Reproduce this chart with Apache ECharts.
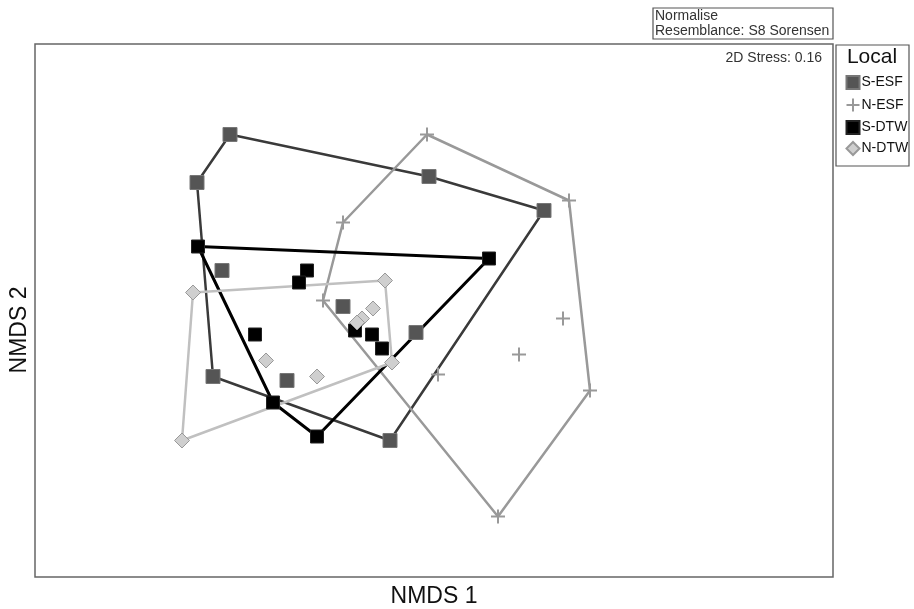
<!DOCTYPE html>
<html>
<head>
<meta charset="utf-8">
<script src="https://cdn.jsdelivr.net/npm/echarts@6/dist/echarts.min.js"></script>
<style>html,body{margin:0;padding:0;background:#fff}#c{width:914px;height:609px}</style>
</head>
<body>
<div id="c"></div>
<script>
// Group names
var groups = ['S-ESF', 'N-ESF', 'S-DTW', 'N-DTW'];
// NMDS coordinates [NMDS1, NMDS2]
var sEsf = [[-1.02,0.88],[-1.185,0.64],[-0.025,0.67],[0.55,0.50],[-1.06,0.20],[-0.455,0.02],[-0.09,-0.11],[-1.105,-0.33],[-0.735,-0.35],[-0.22,-0.65]];
var nEsf = [[-0.035,0.88],[0.675,0.55],[-0.455,0.44],[-0.555,0.05],[0.645,-0.04],[0.425,-0.22],[0.02,-0.32],[0.78,-0.40],[0.32,-1.03]];
var sDtw = [[-1.18,0.32],[0.275,0.26],[-0.635,0.20],[-0.675,0.14],[-0.895,-0.12],[-0.395,-0.10],[-0.31,-0.12],[-0.26,-0.19],[-0.805,-0.46],[-0.585,-0.63]];
var nDtw = [[-1.205,0.09],[-0.245,0.15],[-0.305,0.01],[-0.36,-0.04],[-0.385,-0.06],[-0.84,-0.25],[-0.585,-0.33],[-0.21,-0.26],[-1.26,-0.65]];
// Convex hull vertex order (indices into the arrays above)
var hullSEsf = [0,2,3,9,7,1,0];
var hullNEsf = [0,1,7,8,3,2,0];
var hullSDtw = [0,1,9,8,0];
var hullNDtw = [0,1,7,8,0];
var stressText = '2D Stress: 0.16';

function hull(pts, idx){ return idx.map(function(i){ return pts[i]; }); }

var plusPath = 'path://M0,6 L12,6 M6,0 L6,12';

var chart = echarts.init(document.getElementById('c'));
var font = 'Liberation Sans, Arial, sans-serif';
chart.setOption({
  animation: false,
  textStyle: {fontFamily: font},
  grid: {left: 35, top: 44, width: 798, height: 533, show: true, borderColor: '#666', borderWidth: 1.5, backgroundColor: 'transparent'},
  xAxis: {type: 'value', min: -1.995, max: 1.995, axisLine:{show:false}, axisTick:{show:false}, axisLabel:{show:false}, splitLine:{show:false}},
  yAxis: {type: 'value', min: -1.3325, max: 1.3325, axisLine:{show:false}, axisTick:{show:false}, axisLabel:{show:false}, splitLine:{show:false}},
  legend: {
    data: groups, orient: 'vertical', left: 839, top: 70, itemWidth: 13, itemHeight: 13, itemGap: 6,
    textStyle: {fontSize: 14, color: '#111', fontFamily: font, padding: [0,0,0,-3]}, selectedMode: false
  },
  graphic: [
    {type:'rect', shape:{x:653, y:8, width:180, height:31}, style:{fill:'none', stroke:'#555', lineWidth:1.2}},
    {type:'text', left:655, top:9, style:{text:'Normalise', font:'14px '+font, fill:'#333'}},
    {type:'text', left:655, top:24, style:{text:'Resemblance: S8 Sorensen', font:'14px '+font, fill:'#333'}},
    {type:'text', right: 914-822, top:51, style:{text: stressText, font:'14px '+font, fill:'#333', align:'right'}},
    {type:'rect', shape:{x:836, y:45, width:73, height:121}, style:{fill:'none', stroke:'#555', lineWidth:1.2}},
    {type:'text', x:872, y:57, style:{text:'Local', font:'21px '+font, fill:'#111', align:'center', verticalAlign:'middle'}},
    {type:'text', x:434, y:597, style:{text:'NMDS 1', font:'23px '+font, fill:'#111', align:'center', verticalAlign:'middle'}},
    {type:'text', x:20, y:330, rotation: Math.PI/2, style:{text:'NMDS 2', font:'23px '+font, fill:'#111', align:'center', verticalAlign:'middle'}}
  ],
  series: [
    {name:'S-ESF hull', type:'line', data: hull(sEsf, hullSEsf), symbol:'none', lineStyle:{color:'#3a3a3a', width:2.5}, z:1},
    {name:'N-ESF hull', type:'line', data: hull(nEsf, hullNEsf), symbol:'none', lineStyle:{color:'#999', width:2.5}, z:1},
    {name:'S-DTW hull', type:'line', data: hull(sDtw, hullSDtw), symbol:'none', lineStyle:{color:'#000', width:3}, z:1},
    {name:'N-DTW hull', type:'line', data: hull(nDtw, hullNDtw), symbol:'none', lineStyle:{color:'#c0c0c0', width:2.5}, z:1},
    {name:'S-ESF', type:'scatter', data: sEsf, symbol:'rect', symbolSize:14, itemStyle:{color:'#555', borderColor:'#777', borderWidth:1, opacity:1}, z:3},
    {name:'N-ESF', type:'scatter', data: nEsf, symbol: plusPath, symbolSize:14, itemStyle:{color:'none', borderColor:'#999', borderWidth:2, opacity:1}, z:3},
    {name:'S-DTW', type:'scatter', data: sDtw, symbol:'rect', symbolSize:13, itemStyle:{color:'#000', borderColor:'#222', borderWidth:1, opacity:1}, z:3},
    {name:'N-DTW', type:'scatter', data: nDtw, symbol:'diamond', symbolSize:15, itemStyle:{color:'#cfcfcf', borderColor:'#999', borderWidth:1, opacity:1}, z:3}
  ]
});
</script>
</body>
</html>
